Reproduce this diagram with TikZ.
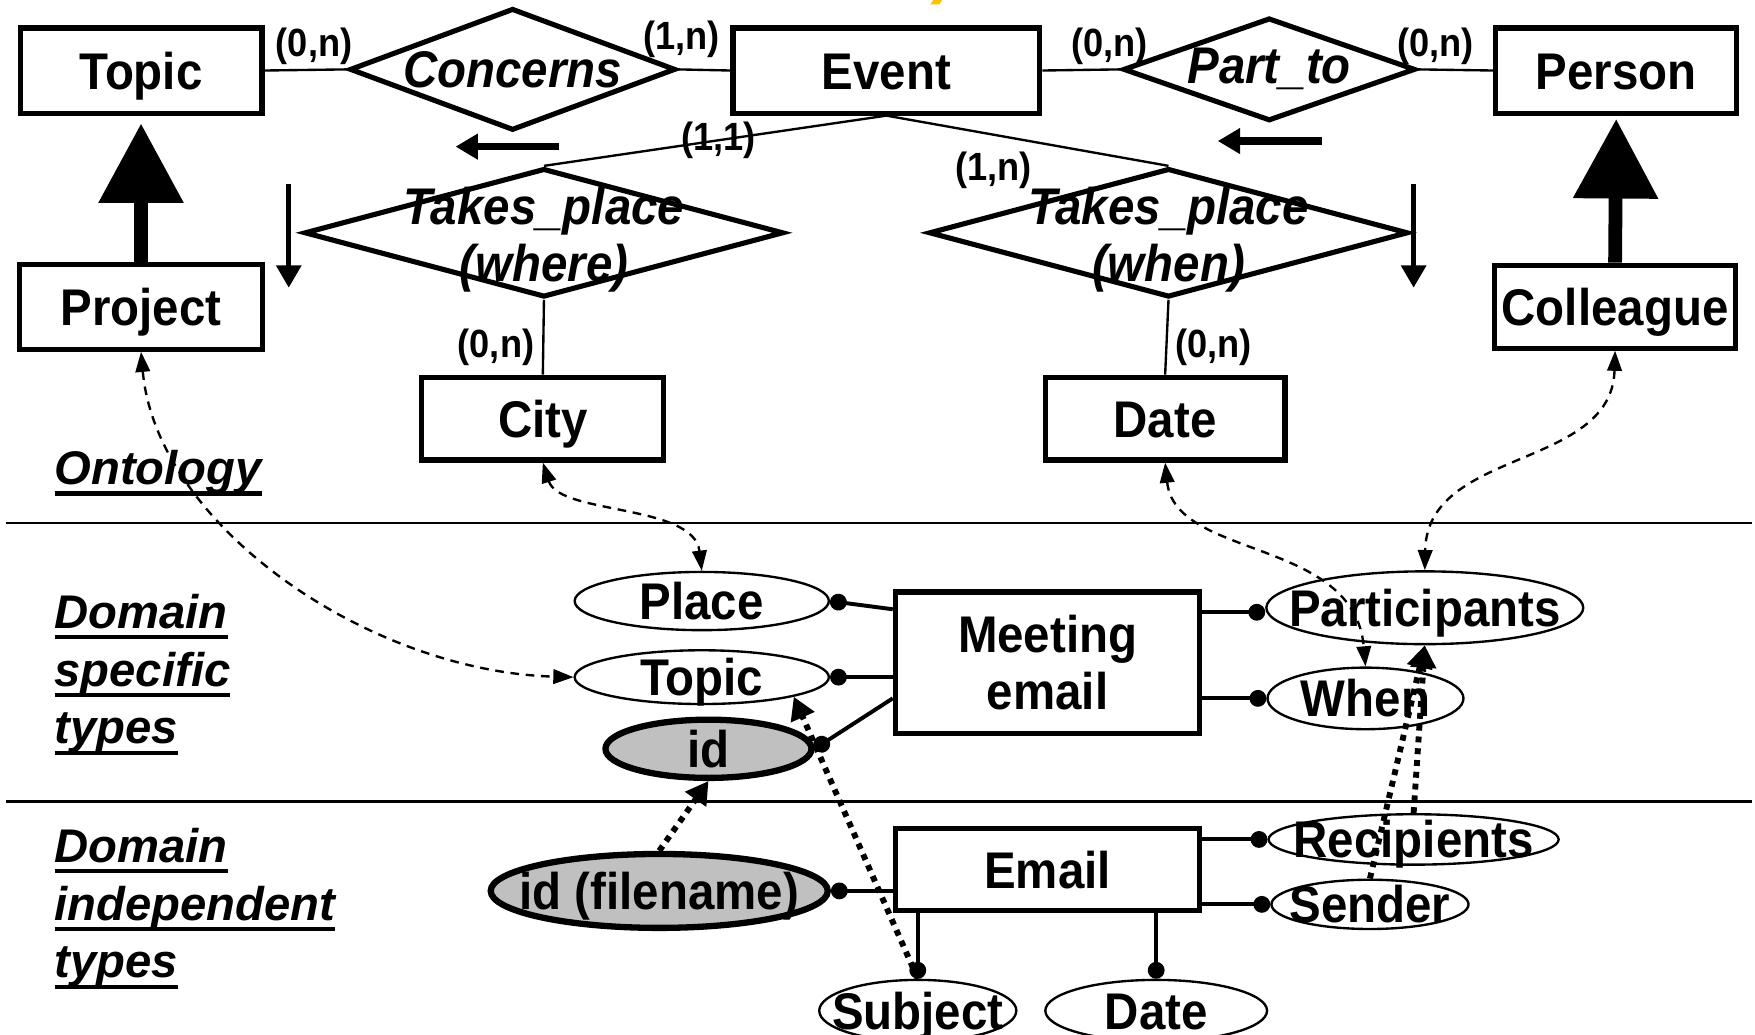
\documentclass[tikz,border=0pt]{standalone}
\usepackage{fontspec}
\setmainfont{Liberation Sans}
\newfontfamily\erfont[FakeStretch=0.92]{Liberation Sans}
\usepackage{xcolor}
\usepackage{tikz}
\usetikzlibrary{arrows.meta,positioning,shapes.geometric,calc}
\definecolor{idgray}{RGB}{192,192,192}
\definecolor{titlegold}{RGB}{255,192,0}
\newcommand{\erbig}{\erfont\bfseries\fontsize{13.1pt}{14.5pt}\selectfont}
\newcommand{\ersmall}{\erfont\bfseries\fontsize{10pt}{12pt}\selectfont}
\newcommand{\lblfont}{\bfseries\itshape\fontsize{12pt}{14.7pt}\selectfont}
\newsavebox{\ulsave}
\newcommand{\ulab}[1]{\sbox{\ulsave}{#1}\rlap{\rule[-2.8pt]{\wd\ulsave}{1.1pt}}\usebox{\ulsave}}
\tikzset{
  boxbase/.style 2 args={rectangle, draw, line width=1.3pt, minimum width=#1,
              minimum height=#2, inner sep=0pt, font=\erbig},
  ent/.style 2 args={boxbase={#1}{#2}, text height=9.4pt, text depth=0pt},
  rel/.style 2 args={diamond, draw, line width=1.3pt, minimum width=#1,
              minimum height=#2, inner sep=0pt},
  reltxt/.style={font=\erbig\itshape, align=center, inner sep=0pt},
  attr/.style 2 args={ellipse, draw, line width=0.6pt, minimum width=#1,
              minimum height=#2, inner sep=0pt},
  keyattr/.style 2 args={attr={#1}{#2}, line width=1.6pt, fill=idgray},
  atxt/.style={font=\erbig, inner sep=0pt, text height=9.4pt, text depth=0pt},
  card/.style={font=\ersmall, inner sep=0pt},
  erline/.style={line width=0.6pt},
  attrline/.style={line width=1pt, -{Circle[length=1.5mm]}},
  isa/.style={line width=3.5pt, -{Triangle[width=7.3mm, length=7.1mm]}},
  dirarr/.style={line width=#1, -{Triangle[width=2.2mm, length=2mm]}},
  map/.style={line width=0.6pt, dash pattern=on 2.2pt off 1.7pt,
              >={Triangle[width=1.3mm, length=1.8mm]}, <->},
  derive/.style={line width=1.5pt, dash pattern=on 1.5pt off 1.5pt,
              -{Triangle[width=2.2mm, length=2mm]}},
  layerline/.style={line width=0.6pt},
  layerlbl/.style={font=\lblfont, align=left, inner sep=0pt},
}
\begin{document}
\begin{tikzpicture}[x=0.01cm, y=-0.01cm]
  \useasboundingbox (0,0) rectangle (1568,924);
  \fill[titlegold] (834,0) -- (842,0) -- (839,4) -- (831,4) -- cycle;

  % ontology
  \node[ent={2.16cm}{0.76cm}] (topic) at (126,63) {Topic};
  \node[rel={2.91cm}{1.09cm}, label={[reltxt]center:Concerns}] (concerns) at (458,62) {};
  \node[ent={2.74cm}{0.76cm}] (event) at (792,63) {Event};
  \node[rel={2.61cm}{0.92cm}, label={[reltxt]center:Part\_to}] (partto) at (1134,62) {};
  \node[ent={2.15cm}{0.76cm}] (person) at (1444,63) {Person};
  \node[rel={4.28cm}{1.15cm}, label={[reltxt, yshift=-1.7pt]center:{Takes\_place\\(where)}}] (where) at (486,208) {};
  \node[rel={4.28cm}{1.15cm}, label={[reltxt, yshift=-1.7pt]center:{Takes\_place\\(when)}}] (when) at (1044,208) {};
  \node[ent={2.17cm}{0.76cm}] (project) at (126,274) {Project};
  \node[ent={2.15cm}{0.74cm}] (colleague) at (1443,274) {Colleague};
  \node[ent={2.16cm}{0.74cm}] (city) at (485,374) {City};
  \node[ent={2.14cm}{0.74cm}] (date) at (1041,374) {Date};

  \draw[erline] (topic.east) -- node[card, pos=0.6, above=1pt] (cTopConc) {(0,n)} (concerns.west);
  \draw[erline] (concerns.east) -- node[card, pos=0.06, above=2.7pt] (cConcEv) {(1,n)} (event.west);
  \draw[erline] (event.east) -- node[card, pos=0.86, above=1pt] (cEvPart) {(0,n)} (partto.west);
  \draw[erline] (partto.east) -- node[card, pos=0.23, above=1pt] (cPartPers) {(0,n)} (person.west);
  \draw[erline] (event.south) -- node[card, pos=0.49] (cEvWhere) {(1,1)} (where.north);
  \draw[erline] (event.south) -- node[card, pos=0.38, below=4pt] (cEvWhen) {(1,n)} (when.north);
  \draw[erline] (where.south) -- node[card, pos=0.63, left=2pt] (cWhereCity) {(0,n)} (city.north);
  \draw[erline] (when.south) -- node[card, pos=0.63, right=2pt] (cWhenDate) {(0,n)} (date.north);

  \draw[isa, shorten >=0.7mm] (project.north) -- (topic.south);
  \draw[isa, shorten >=0.3mm] (colleague.north) -- (person.south);

  \coordinate (dirConcA) at (499,131);
  \coordinate (dirConcB) at (407,131);
  \coordinate (dirPartA) at (1181,126);
  \coordinate (dirPartB) at (1088,126);
  \coordinate (dirWhereA) at (258,164);
  \coordinate (dirWhereB) at (258,257);
  \coordinate (dirWhenA) at (1263,164);
  \coordinate (dirWhenB) at (1263,257);
  \draw[dirarr=1.8pt] (dirConcA) -- (dirConcB);
  \draw[dirarr=1.8pt] (dirPartA) -- (dirPartB);
  \draw[dirarr=1.2pt] (dirWhereA) -- (dirWhereB);
  \draw[dirarr=1.2pt] (dirWhenA) -- (dirWhenB);

  % layers
  \draw[layerline] (5,467) -- (1565,467);
  \draw[layerline] (5,716) -- (1565,716);
  \node[layerlbl, anchor=base west] (lOnto) at (48,433) {\ulab{Ontology}};
  \node[layerlbl, anchor=north west] (lSpec) at (48,530)
       {\ulab{Domain}\\\ulab{specific}\\\ulab{types}};
  \node[layerlbl, anchor=north west] (lIndep) at (48,739)
       {\ulab{Domain}\\\ulab{independent}\\\ulab{types}};

  % domain specific types
  \node[boxbase={2.72cm}{1.26cm}, align=center] (meet) at (936,592) {Meeting\\email};
  \node[attr={2.27cm}{0.52cm}, label={[atxt]center:Place}] (place) at (627,537) {};
  \node[attr={2.27cm}{0.48cm}, label={[atxt]center:Topic}] (topicA) at (627,605) {};
  \node[keyattr={1.84cm}{0.52cm}, label={[atxt]center:id}] (idA) at (633,669) {};
  \node[attr={2.83cm}{0.65cm}, label={[atxt]center:Participants}] (partic) at (1273,543) {};
  \node[attr={1.75cm}{0.55cm}, label={[atxt]center:When}] (whenA) at (1220,624) {};
  \draw[attrline] (meet.161) -- (place.east);
  \draw[attrline] (meet.west |- topicA.east) -- (topicA.east);
  \draw[attrline] (meet.193) -- (idA.east);
  \draw[attrline] (meet.18) -- (meet.18 -| partic.west);
  \draw[attrline] (meet.347) -- (meet.347 -| whenA.west);

  % domain independent types
  \node[ent={2.72cm}{0.73cm}] (email) at (936,777) {Email};
  \node[keyattr={3.01cm}{0.66cm}, label={[atxt]center:id (filename)}] (idf) at (589,796) {};
  \node[attr={2.59cm}{0.45cm}, label={[atxt]center:Recipients}] (recip) at (1263,750) {};
  \node[attr={1.76cm}{0.44cm}, label={[atxt]center:Sender}] (sender) at (1224,808) {};
  \node[attr={1.76cm}{0.55cm}, label={[atxt]center:Subject}] (subj) at (820,903) {};
  \node[attr={1.98cm}{0.55cm}, label={[atxt]center:Date}] (dateA) at (1033,903) {};
  \draw[attrline] (email.west |- idf.east) -- (idf.east);
  \draw[attrline] (email.east |- recip.west) -- (recip.west);
  \draw[attrline] (email.east |- sender.west) -- (sender.west);
  \draw[attrline] (email.south -| subj.north) -- (subj.north);
  \draw[attrline] (email.south -| dateA.north) -- (dateA.north);

  \draw[derive] (idf.north) -- (idA.south);
  \draw[derive] (subj.north) -- (topicA.-12);
  \draw[derive] (sender.north) -- (partic.south);
  \draw[derive] (recip.north) -- (partic.south);

  \draw[map] (project.south) .. controls (140,470) and (330,600) .. (topicA.west);
  \draw[map] (city.south) .. controls (500,460) and (620,450) .. (place.north);
  \draw[map] (date.south) .. controls (1050,500) and (1210,480) .. (whenA.north);
  \draw[map] (colleague.south) .. controls (1440,420) and (1275,400) .. (partic.north);
\end{tikzpicture}
\end{document}
